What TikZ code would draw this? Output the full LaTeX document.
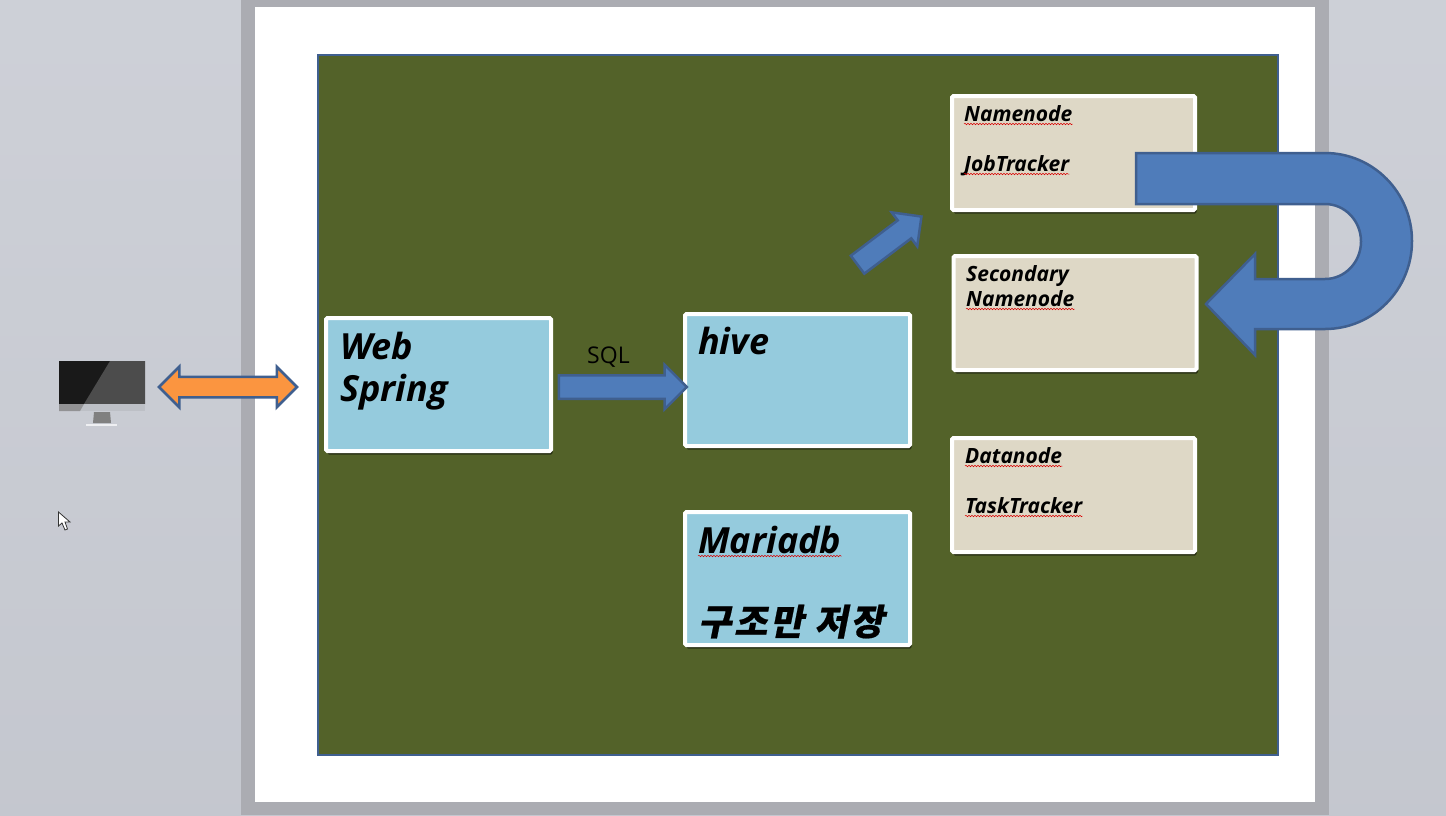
\documentclass[tikz,border=0pt]{standalone}
\usepackage{fontspec}
\setmainfont{Open Sans}
\newfontfamily\cjk[FakeSlant=0.2,FakeBold=0.6,LetterSpace=8]{Noto Sans CJK KR}
\usetikzlibrary{shapes.arrows,shadows,decorations.pathmorphing}
\definecolor{panel}{HTML}{C8CBD3}
\definecolor{gutter}{HTML}{ABACB2}
\definecolor{olive}{HTML}{536229}
\definecolor{edgeblue}{HTML}{3F5F8F}
\definecolor{arrowblue}{HTML}{4F7CBA}
\definecolor{skybox}{HTML}{95CBDD}
\definecolor{sandbox}{HTML}{DED8C6}
\definecolor{orangefill}{HTML}{FB9540}
\tikzset{
    box/.style={draw=white, line width=4pt, rounded corners=1.5pt, minimum width=#1, inner sep=0pt, drop shadow={shadow xshift=1.5pt, shadow yshift=-3.5pt, opacity=0.5, fill=black}},
    bigtext/.style={anchor=base west, inner sep=0pt, text=black, font=\fontsize{36}{42}\selectfont\bfseries\itshape},
    smalltext/.style={anchor=base west, inner sep=0pt, text=black, font=\fontsize{21}{25}\selectfont\bfseries\itshape},
    squiggle/.style={draw=red!85!black, line width=0.5pt, decorate, decoration={snake, amplitude=0.7pt, segment length=3pt}},
    blockarrow/.style={single arrow, draw=edgeblue, fill=arrowblue, line width=2.5pt, inner sep=#1, single arrow head extend=#1},
}
\begin{document}
\begin{tikzpicture}[x=1pt, y=-1pt]
    \useasboundingbox (0,0) rectangle (1446,815);

    % window and slide
    \shade[top color=panel!90!white, bottom color=panel!95!gray] (0,0) rectangle (1446,815);
    \fill[color=gutter] (241,0) rectangle (1329,815);
    \fill[color=white] (255,7) rectangle (1315,802);
    \draw[draw=edgeblue, fill=olive, line width=2.5pt] (318,55) rectangle (1278,755);

    % boxes
    \node[box=225pt, fill=skybox, minimum height=133pt] (web) at (438.5,384.5) {};
    \node[box=225pt, fill=skybox, minimum height=132pt] (hive) at (797.5,380) {};
    \node[box=225pt, fill=skybox, minimum height=133pt] (mariadb) at (797.5,578.5) {};
    \node[box=243pt, fill=sandbox, minimum height=114pt] (namenode) at (1073.5,153) {};
    \node[box=243pt, fill=sandbox, minimum height=114pt] (secondary) at (1075,313) {};
    \node[box=243pt, fill=sandbox, minimum height=114pt] (datanode) at (1073.5,495) {};

    % texts
    \node[bigtext] (webtxt) at (340,359) {Web};
    \node[bigtext] (springtxt) at (340,401) {Spring};
    \node[bigtext] (hivetxt) at (698,354) {hive};
    \node[bigtext] (mariatxt) at (698,553) {Mariadb};
    \node[bigtext] (koreantxt) at (698,635) {\cjk 구조만 저장};
    \node[smalltext] (nametxt) at (964,121) {Namenode};
    \node[smalltext] (jobtxt) at (964,171) {JobTracker};
    \node[smalltext] (secondtxt) at (966,281) {Secondary};
    \node[smalltext] (secnametxt) at (966,306) {Namenode};
    \node[smalltext] (datatxt) at (965,463) {Datanode};
    \node[smalltext] (tasktxt) at (965,513) {TaskTracker};
    \node[anchor=base west, inner sep=0pt, font=\fontsize{23}{28}\selectfont] (sqltxt) at (587,363) {SQL};

    % spell check marks
    \foreach \word in {mariatxt, nametxt, jobtxt, secnametxt, datatxt, tasktxt} {
        \draw[squiggle] ([yshift=-3pt]\word.base west) -- ([yshift=-3pt]\word.base east);
    }

    % monitor
    \fill[color=black!90] (59,361) rectangle (145,404);
    \fill[color=black!70!white] (110,361) -- (145,361) -- (145,404) -- (84,404) -- cycle;
    \fill[color=gray!15!panel] (59,404) rectangle (145,411);
    \fill[color=gray!75!panel] (59,404) -- (84,404) -- (80,411) -- (59,411) -- cycle;
    \fill[color=gray] (94,412) -- (110,412) -- (111,423) -- (93,423) -- cycle;
    \fill[color=white!70!panel] (86,424) rectangle (117,426);

    % cursor
    \draw[draw=black!80, fill=white, line width=0.8pt] (58.5,512) -- (58.5,526) -- (62,523) -- (65,530) -- (67.5,529) -- (65,522) -- (70,522) -- cycle;

    % arrows
    \node[double arrow, draw=edgeblue, fill=orangefill, line width=2.5pt, inner sep=9pt, minimum height=138pt, double arrow head extend=10pt] (link) at (228,387) {};
    \node[blockarrow=10.5pt, minimum height=128pt] (sqlarrow) at (617,387) {};
    \node[blockarrow=10pt, minimum height=80pt, rotate=37] (jobarrow) at (885,244) {};

    \draw[draw=edgeblue, fill=arrowblue, line width=2.5pt, line join=miter] (1136,153) -- (1325,153)
        arc[start angle=-90, end angle=90, x radius=87, y radius=88] -- (1255,329) -- (1255,355)
        -- (1206,304) -- (1255,254) -- (1255,279) -- (1325,279)
        arc[start angle=90, end angle=-90, x radius=36, y radius=37.5] -- (1136,204) -- cycle;
\end{tikzpicture}
\end{document}
